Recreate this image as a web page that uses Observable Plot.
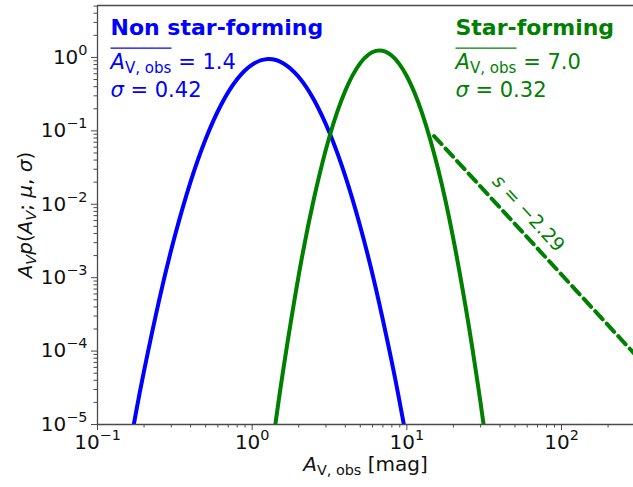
<!DOCTYPE html>
<html><head><meta charset="utf-8">
<script src="https://cdn.jsdelivr.net/npm/d3@7"></script>
<script src="https://cdn.jsdelivr.net/npm/@observablehq/plot@0.6"></script>
<style>html,body{margin:0;padding:0;background:#fff} svg{display:block}</style>
</head><body><div id="chart"></div>
<script>
// ---- data ----
const nsfAv = [0.1585, 0.1778, 0.1995, 0.2512, 0.3162, 0.3981, 0.5012, 0.6310, 0.7943, 1.0, 1.259, 1.585, 1.995, 2.512, 3.162, 3.981, 5.012, 6.310, 7.943, 8.913, 10.0];
const nsfP  = [3.98e-6, 1.50e-5, 5.24e-5, 5.11e-4, 3.69e-3, 0.01974, 0.0781, 0.2289, 0.4967, 0.7980, 0.9491, 0.8358, 0.5448, 0.2630, 0.0940, 0.02487, 4.87e-3, 7.07e-4, 7.59e-5, 2.22e-5, 6.04e-6];
const sfAv  = [1.259, 1.413, 1.585, 1.995, 2.512, 3.162, 3.981, 5.012, 6.310, 7.943, 10.0, 12.59, 15.85, 19.95, 25.12, 28.18, 31.62, 39.81];
const sfP   = [1.66e-6, 1.01e-5, 5.41e-5, 1.051e-3, 0.01216, 0.0839, 0.3445, 0.8433, 1.230, 1.069, 0.5535, 0.1708, 0.03140, 3.438e-3, 2.244e-4, 4.72e-5, 8.73e-6, 2.02e-7];
const slopeAv = [15, 300];
const slopeP  = [0.085, 8.9e-5];
const slopeLabel = "$s$ = −2.29";
const slopeLabelAv = [61];
const slopeLabelP  = [0.0075];

const xTicks = [0.1, 1, 10, 100];
const xTickLabels = ["10^{−1}", "10^{0}", "10^{1}", "10^{2}"];
const yTicks = [1e-5, 1e-4, 1e-3, 1e-2, 1e-1, 1];
const yTickLabels = ["10^{−5}", "10^{−4}", "10^{−3}", "10^{−2}", "10^{−1}", "10^{0}"];
const xDomain = [0.1, 292];
const yDomain = [1e-5, 5.1];

const groupNames = ["Non star-forming", "Star-forming"];
const groupMeanLabels = ["|$A$_{V, obs}| = 1.4", "|$A$_{V, obs}| = 7.0"];
const groupSigmaLabels = ["$σ$ = 0.42", "$σ$ = 0.32"];
const groupColors = ["#0000ff", "#008000"];
const groupDx = [13, 358];

const xLabel = "$A$_{V, obs} [mag]";
const yLabel = "$A$_{$V$}$p$($A$_{$V$}; $μ$, $σ$)";

// ---- build ----
const AX = "#4a4a4a";
const minor = (lo, hi, kmin, kmax) => {
  const out = [];
  for (let k = kmin; k <= kmax; k++) for (let m = 2; m <= 9; m++) {
    const v = m * Math.pow(10, k);
    if (v > lo && v < hi) out.push(v);
  }
  return out;
};
const xMinor = minor(xDomain[0], xDomain[1], -1, 2);
const yMinor = minor(yDomain[0], yDomain[1], -5, 0);

const nsf = nsfAv.map((a, i) => ({a, p: nsfP[i]}));
const sf = sfAv.map((a, i) => ({a, p: sfP[i]}));
const slope = slopeAv.map((a, i) => ({a, p: slopeP[i]}));

const groupMarks = groupNames.flatMap((name, g) => [
  Plot.text([name], {text: d => d, frameAnchor: "top-left", dx: groupDx[g], dy: 29, lineAnchor: "bottom", textAnchor: "start", fill: groupColors[g], fontSize: 22, fontWeight: "bold"}),
  Plot.text([groupMeanLabels[g]], {text: d => d, frameAnchor: "top-left", dx: groupDx[g], dy: 63, lineAnchor: "bottom", textAnchor: "start", fill: groupColors[g], fontSize: 21}),
  Plot.text([groupSigmaLabels[g]], {text: d => d, frameAnchor: "top-left", dx: groupDx[g], dy: 91, lineAnchor: "bottom", textAnchor: "start", fill: groupColors[g], fontSize: 21})
]);

const plot = Plot.plot({
  width: 633, height: 487,
  marginLeft: 97, marginRight: 0, marginTop: 5, marginBottom: 63,
  style: {fontFamily: "DejaVu Sans", background: "#fff", overflow: "visible"},
  x: {type: "log", domain: xDomain, label: null},
  y: {type: "log", domain: yDomain, label: null},
  marks: [
    Plot.line(nsf, {x: "a", y: "p", stroke: groupColors[0], strokeWidth: 4, curve: "natural", clip: true}),
    Plot.line(sf, {x: "a", y: "p", stroke: groupColors[1], strokeWidth: 4, curve: "natural", clip: true}),
    Plot.line(slope, {x: "a", y: "p", stroke: groupColors[1], strokeWidth: 4, strokeDasharray: "11,6", clip: true}),
    Plot.ruleY([yDomain[0]], {stroke: AX, strokeWidth: 1.3}),
    Plot.ruleY([yDomain[1]], {stroke: AX, strokeWidth: 1.3}),
    Plot.ruleX([xDomain[0]], {stroke: AX, strokeWidth: 1.3}),
    Plot.axisX({ticks: xTicks, tickSize: 6, tickFormat: () => "", stroke: AX, label: null}),
    Plot.axisX({ticks: xMinor, tickSize: 3.5, tickFormat: () => "", stroke: AX, label: null}),
    Plot.axisY({ticks: yTicks, tickSize: 6, tickFormat: () => "", stroke: AX, label: null}),
    Plot.axisY({ticks: yMinor, tickSize: 3.5, tickFormat: () => "", stroke: AX, label: null}),
    Plot.text(xTicks, {x: d => d, text: (d, i) => xTickLabels[i], frameAnchor: "bottom", dy: 24, lineAnchor: "bottom", textAnchor: "middle", fontSize: 20, fill: "#111"}),
    Plot.text(yTicks, {y: d => d, text: (d, i) => yTickLabels[i], frameAnchor: "left", dx: -10, lineAnchor: "middle", textAnchor: "end", fontSize: 20, fill: "#111"}),
    Plot.text([xLabel], {text: d => d, frameAnchor: "bottom", dy: 46, lineAnchor: "bottom", textAnchor: "middle", fontSize: 20, fill: "#111"}),
    Plot.text([yLabel], {text: d => d, frameAnchor: "left", dx: -66, rotate: -90, lineAnchor: "bottom", textAnchor: "middle", fontSize: 20, fill: "#111"}),
    Plot.text([slopeLabel], {x: slopeLabelAv, y: slopeLabelP, text: [slopeLabel], rotate: 47.5, lineAnchor: "middle", textAnchor: "middle", fontSize: 19, fill: groupColors[1]}),
    ...groupMarks
  ]
});
document.getElementById("chart").appendChild(plot);

// ---- rich text: italics ($), sub _{ }, sup ^{ }, overline | | ----
const NS = "http://www.w3.org/2000/svg";
function richify(el) {
  const s = el.textContent;
  if (!/[\$\{\|]/.test(s)) return;
  const base = parseFloat(getComputedStyle(el).fontSize) || 20;
  const segs = [];
  let italic = false, shift = 0, cur = null, idx = 0, ovStart = -1, ovEnd = -1, over = false;
  for (let i = 0; i < s.length; i++) {
    const c = s[i];
    if (c === "$") { italic = !italic; continue; }
    if (c === "|") { if (!over) { over = true; ovStart = idx; } else { over = false; ovEnd = idx; } continue; }
    if ((c === "_" || c === "^") && s[i + 1] === "{") { shift = c === "_" ? 1 : -1; i++; continue; }
    if (c === "}" && shift) { shift = 0; continue; }
    if (!cur || cur.italic !== italic || cur.shift !== shift) { cur = {t: "", italic, shift}; segs.push(cur); }
    cur.t += c; idx++;
  }
  el.textContent = "";
  let prev = 0;
  for (const sg of segs) {
    const ts = document.createElementNS(NS, "tspan");
    ts.textContent = sg.t;
    if (sg.italic) ts.setAttribute("font-style", "italic");
    const off = sg.shift === 1 ? 0.22 * base : sg.shift === -1 ? -0.45 * base : 0;
    if (off - prev) ts.setAttribute("dy", (off - prev).toFixed(2));
    if (sg.shift) ts.setAttribute("font-size", (0.72 * base).toFixed(1));
    prev = off;
    el.appendChild(ts);
  }
  if (ovStart >= 0 && ovEnd > ovStart) {
    const p0 = el.getStartPositionOfChar(ovStart);
    const p1 = el.getEndPositionOfChar(ovEnd - 1);
    const yb = el.getStartPositionOfChar(0).y;
    const ln = document.createElementNS(NS, "line");
    ln.setAttribute("x1", p0.x); ln.setAttribute("x2", p1.x);
    ln.setAttribute("y1", yb - 0.97 * base); ln.setAttribute("y2", yb - 0.97 * base);
    ln.setAttribute("stroke", el.getAttribute("fill") || getComputedStyle(el).fill);
    ln.setAttribute("stroke-width", 1.3);
    const tr = el.getAttribute("transform");
    if (tr) ln.setAttribute("transform", tr);
    el.parentNode.appendChild(ln);
  }
}
plot.querySelectorAll("text").forEach(richify);
</script>
</body></html>
